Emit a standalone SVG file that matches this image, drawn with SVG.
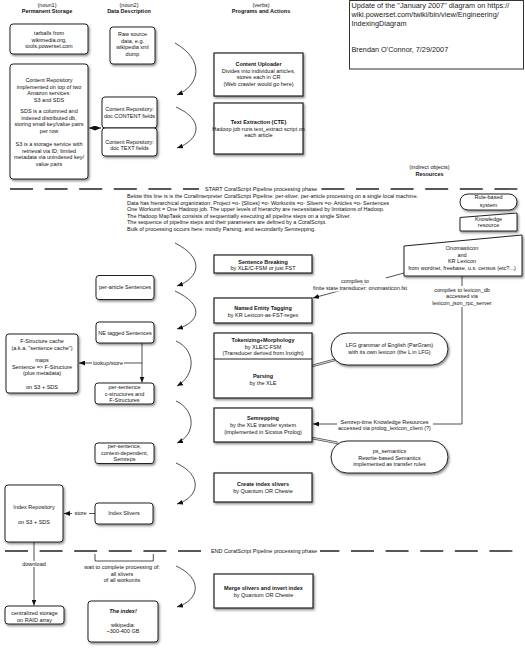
<svg xmlns="http://www.w3.org/2000/svg" width="525" height="649" viewBox="0 0 525 649">
<defs>
<style>
text{font-family:"Liberation Sans",Arial,Helvetica,sans-serif;font-size:5.5px;fill:#111;text-anchor:middle}
.b{font-weight:bold}
.l{text-anchor:start}
.blk{font-size:5.5px;text-anchor:start}
.note{font-size:7.3px;text-anchor:start;fill:#1a1a24}
.box{fill:#fff;stroke:#222;stroke-width:1;filter:url(#sh)}
.pbox{fill:#fff;stroke:#222;stroke-width:1.2;filter:url(#sh)}
.c{fill:none;stroke:#222;stroke-width:0.8}
.dash{fill:none;stroke:#222;stroke-width:1.4;stroke-dasharray:23 11.6}
.dbl1{stroke:#555;stroke-width:2.4;fill:none}
.dbl2{stroke:#fff;stroke-width:0.8;fill:none}
.bg{fill:#fff}
</style>
<filter id="sh" x="-10%" y="-10%" width="130%" height="140%"><feDropShadow dx="1.2" dy="1.6" stdDeviation="0.8" flood-color="#000" flood-opacity="0.45"/></filter>
<marker id="ah" viewBox="0 0 6 5" refX="6" refY="2.5" markerWidth="6" markerHeight="5" markerUnits="userSpaceOnUse" orient="auto-start-reverse"><path d="M0,0 L6,2.5 L0,5 z" fill="#111"/></marker>
</defs>
<rect width="525" height="649" fill="#fff"/>

<g id="headers">
<text x="47" y="7">(noun1)</text>
<text x="47" y="13" class="b">Permanent Storage</text>
<text x="129" y="7">(noun2)</text>
<text x="129" y="13" class="b">Data Description</text>
<text x="261" y="7">(verbs)</text>
<text x="261" y="13" class="b">Programs and Actions</text>
<text x="429.5" y="169">(indirect objects)</text>
<text x="429.5" y="175.5" class="b">Resources</text>
</g>

<g id="note">
<rect x="349.5" y="0.5" width="174" height="68.5" fill="#fff" stroke="#333" stroke-width="1"/>
<text x="351.5" y="8.3" class="note">Update of the "January 2007" diagram on https://</text>
<text x="351.5" y="17" class="note">wiki.powerset.com/twiki/bin/view/Engineering/</text>
<text x="351.5" y="26" class="note">IndexingDiagram</text>
<text x="351.5" y="52" class="note">Brendan O'Connor, 7/29/2007</text>
</g>

<g id="phases">
<line x1="10" y1="189" x2="517.4" y2="189" class="dash"/>
<rect x="199" y="185" width="121" height="8" class="bg"/>
<text x="261" y="190.9">START CoralScript Pipeline processing phase</text>
<line x1="5" y1="551" x2="513" y2="551" class="dash"/>
<rect x="205" y="547" width="115" height="8" class="bg"/>
<text x="264" y="552.9">END CoralScript Pipeline processing phase</text>
</g>

<g id="pipeline-notes">
<text x="127" y="198" class="blk">Below this line is is the CoralInterpreter CoralScript Pipeline: per-sliver, per-article processing on a single local machine.</text>
<text x="127" y="204.5" class="blk">Data has hierarchical organization:  Project =o- {Slices} =o- Workunits =o- Slivers =o- Articles =o- Sentences</text>
<text x="127" y="211" class="blk">One Workunit = One Hadoop job.  The upper levels of hierarchy are necessitated by limitations of Hadoop.</text>
<text x="127" y="217.5" class="blk">The Hadoop MapTask consists of sequentially executing all pipeline steps on a single Sliver.</text>
<text x="127" y="224" class="blk">The sequence of pipeline steps and their parameters are defined by a CoralScript.</text>
<text x="127" y="230.5" class="blk">Bulk of processing occurs here: mostly Parsing, and secondarily Semrepping.</text>
</g>

<g id="connectors">
<line x1="89" y1="128" x2="101" y2="128" class="c" marker-start="url(#ah)" marker-end="url(#ah)"/>
<path d="M175,43 C205,60 200,85 177,95" class="c" marker-end="url(#ah)"/>
<path d="M176,107 C205,120 200,140 177,148" class="c" marker-end="url(#ah)"/>
<path d="M175,243 C205,258 200,278 177,286" class="c" marker-end="url(#ah)"/>
<path d="M175,291 C205,305 200,322 177,329" class="c" marker-end="url(#ah)"/>
<path d="M176,341 C196,350 196,375 177,386" class="c" marker-end="url(#ah)"/>
<path d="M176,401 C196,410 196,435 177,443" class="c" marker-end="url(#ah)"/>
<path d="M176,463 C203,475 200,497 177,504" class="c" marker-end="url(#ah)"/>
<path d="M176,566 C203,578 200,600 177,607" class="c" marker-end="url(#ah)"/>
<line x1="142" y1="343" x2="142" y2="382.5" class="c" marker-end="url(#ah)"/>
<line x1="142" y1="363" x2="79" y2="363" class="c" marker-end="url(#ah)"/>
<rect x="92" y="360" width="32" height="6" class="bg"/>
<text x="108" y="364.9">lookup/store</text>
<line x1="95" y1="513.5" x2="64" y2="513.5" class="c" marker-end="url(#ah)"/>
<rect x="72" y="510.5" width="17" height="6" class="bg"/>
<text x="80.5" y="515.4">store</text>
<line x1="34" y1="542" x2="34" y2="605.5" class="c" marker-end="url(#ah)"/>
<rect x="21" y="561" width="26" height="6" class="bg"/>
<text x="34" y="565.9">download</text>
<line x1="404" y1="273" x2="313" y2="298" class="c" marker-end="url(#ah)"/>
<rect x="336" y="277.5" width="50" height="7" class="bg"/>
<rect x="312" y="284.5" width="96" height="7" class="bg"/>
<text x="355" y="283.2">compiles to</text>
<text x="360" y="290.2">finite state transducer: onomasticon.fst</text>
<polyline points="462,276 462,424 313,424" class="c" marker-end="url(#ah)"/>
<rect x="433" y="286" width="58" height="21" class="bg"/>
<text x="462" y="291.6">compiles to lexicon_db</text>
<text x="462" y="298.2">accessed via</text>
<text x="462" y="304.9">lexicon_json_rpc_server</text>
<rect x="337" y="418.5" width="96" height="12" class="bg"/>
<text x="384.5" y="423.9">Semrep-time Knowledge Resources</text>
<text x="384.5" y="430">accessed via prolog_lexicon_client (?)</text>
<line x1="312" y1="366" x2="338" y2="359" class="dbl1"/>
<line x1="312" y1="366" x2="338" y2="359" class="dbl2"/>
<line x1="312" y1="438" x2="338" y2="443" class="dbl1"/>
<line x1="312" y1="438" x2="338" y2="443" class="dbl2"/>
</g>

<g id="tarballs">
<rect x="10" y="24" width="78" height="30" rx="3" class="box"/>
<text x="49" y="35">tarballs from</text>
<text x="49" y="41.5">wikimedia.org,</text>
<text x="49" y="48">tools.powerset.com</text>
</g>
<g id="raw-source">
<rect x="110" y="27" width="45" height="37" rx="3" class="box"/>
<text x="132.5" y="36">Raw source</text>
<text x="132.5" y="42.7">data, e.g.</text>
<text x="132.5" y="49.3">wikipedia xml</text>
<text x="132.5" y="56">dump</text>
</g>
<g id="content-repository">
<rect x="10" y="64" width="78" height="115" rx="3" class="box"/>
<text x="49" y="82">Content Repository</text>
<text x="49" y="88.6">implemented on top of two</text>
<text x="49" y="95.2">Amazon services:</text>
<text x="49" y="101.8">S3 and SDS</text>
<text x="49" y="113.2">SDS is a columned and</text>
<text x="49" y="119.6">indexed distributed db,</text>
<text x="49" y="126.4">storing small key/value pairs</text>
<text x="49" y="133">per row</text>
<text x="49" y="146">S3 is a storage service with</text>
<text x="49" y="152.6">retrieval via ID; limited</text>
<text x="49" y="159.2">metadata via unindexed key/</text>
<text x="49" y="165.8">value pairs</text>
</g>
<g id="cr-content">
<rect x="102" y="97" width="55" height="31" rx="3" class="box"/>
<text x="129.5" y="111.2">Content Repository:</text>
<text x="129.5" y="118">doc CONTENT fields</text>
</g>
<g id="cr-text">
<rect x="102" y="128" width="55" height="28" rx="3" class="box"/>
<text x="129.5" y="143.6">Content Repository:</text>
<text x="129.5" y="149.6">doc TEXT fields</text>
</g>
<g id="content-uploader">
<rect x="214" y="53" width="89" height="43" class="pbox"/>
<text x="258.5" y="66" class="b">Content Uploader</text>
<text x="258.5" y="72.6">Divides into individual articles,</text>
<text x="258.5" y="79.2">stores each in CR</text>
<text x="258.5" y="85.8">(Web crawler would go here)</text>
</g>
<g id="text-extraction">
<rect x="214" y="103" width="89" height="51" class="pbox"/>
<text x="258.5" y="124.3" class="b">Text Extraction (CTE)</text>
<text x="258.5" y="130.7" font-size="5.2">Hadoop job runs text_extract script on</text>
<text x="258.5" y="137">each article</text>
</g>

<g id="rule-based">
<rect x="460" y="194" width="57" height="16" rx="8" class="box"/>
<text x="488.5" y="199.2">Rule-based</text>
<text x="488.5" y="206.6">system</text>
</g>
<g id="knowledge-resource">
<polygon points="460,217.5 517,213 517,231 460,231" class="box"/>
<text x="488.5" y="220.9">Knowledge</text>
<text x="488.5" y="227">resource</text>
</g>
<g id="onomasticon">
<polygon points="404,246 522,235 522,276 404,276" class="box"/>
<text x="462" y="250.2">Onomasticon</text>
<text x="462" y="256.6">and</text>
<text x="462" y="263.2">KR Lexicon</text>
<text x="462" y="269.9" font-size="5.2">from wordnet, freebase, u.s. census (etc?...)</text>
</g>

<g id="sentence-breaking">
<rect x="214" y="255" width="98" height="18" class="pbox"/>
<text x="263" y="264" class="b">Sentence Breaking</text>
<text x="263" y="270.3">by XLE/C-FSM or just FST</text>
</g>
<g id="named-entity-tagging">
<rect x="214" y="298" width="98" height="25" class="pbox"/>
<text x="263" y="310" class="b">Named Entity Tagging</text>
<text x="263" y="316.6">by KR Lexicon-as-FST-regex</text>
</g>
<g id="tokenizing-parsing">
<rect x="214" y="333" width="98" height="65" class="pbox"/>
<line x1="214" y1="359" x2="312" y2="359" stroke="#222" stroke-width="1"/>
<text x="263" y="342" class="b">Tokenizing+Morphology</text>
<text x="263" y="348.5">by XLE/C-FSM</text>
<text x="263" y="355">(Transducer derived from Inxight)</text>
<text x="263" y="378" class="b">Parsing</text>
<text x="263" y="384.6">by the XLE</text>
</g>
<g id="semrepping">
<rect x="214" y="408" width="98" height="34" class="pbox"/>
<text x="263" y="420.2" class="b">Semrepping</text>
<text x="263" y="426.9">by the XLE transfer system</text>
<text x="263" y="433.6">(implemented in Sicstus Prolog)</text>
</g>
<g id="create-index-slivers">
<rect x="214" y="473" width="98" height="29" class="pbox"/>
<text x="263" y="486.2" class="b">Create index slivers</text>
<text x="263" y="492.5">by Quantum OR Chewie</text>
</g>
<g id="merge-slivers">
<rect x="214" y="574" width="99" height="34" class="pbox"/>
<text x="263.5" y="590" class="b">Merge slivers and invert index</text>
<text x="263.5" y="596.6">by Quantum OR Chewie</text>
</g>

<g id="lfg-grammar">
<rect x="331" y="333" width="117" height="32" rx="16" class="box"/>
<text x="389.5" y="347.2">LFG grammar of English (ParGram)</text>
<text x="389.5" y="353.9">with its own lexicon (the L in LFG)</text>
</g>
<g id="ps-semantics">
<rect x="331" y="441" width="117" height="32" rx="16" class="box"/>
<text x="389.5" y="452.9">ps_semantics</text>
<text x="389.5" y="459.6">Rewrite-based Semantics</text>
<text x="389.5" y="465.6">implemented as transfer rules</text>
</g>

<g id="per-article-sentences">
<rect x="96" y="275.5" width="58" height="24" rx="3" class="box"/>
<text x="125" y="289.2">per-article Sentences</text>
</g>
<g id="ne-tagged-sentences">
<rect x="96" y="322" width="58" height="21" rx="3" class="box"/>
<text x="125" y="334.6">NE tagged Sentences</text>
</g>
<g id="c-structures">
<rect x="95" y="383" width="59" height="21" rx="3" class="box"/>
<text x="124.5" y="389">per-sentence</text>
<text x="124.5" y="395.6">c-structures and</text>
<text x="124.5" y="402">F-Structures</text>
</g>
<g id="semreps">
<rect x="95" y="443" width="59" height="20.5" rx="3" class="box"/>
<text x="124.5" y="448">per-sentence,</text>
<text x="124.5" y="454.6">context-dependent,</text>
<text x="124.5" y="461.2">Semreps</text>
</g>
<g id="index-slivers">
<rect x="95" y="503" width="58" height="21" rx="3" class="box"/>
<text x="124" y="515.2">Index Slivers</text>
</g>
<g id="f-structure-cache">
<rect x="6" y="334" width="72" height="59" rx="3" class="box"/>
<text x="42" y="343">F-Structure cache</text>
<text x="42" y="349.6">(a.k.a. "sentence cache")</text>
<text x="42" y="362">maps</text>
<text x="42" y="368.6">Sentence =&gt; F-Structure</text>
<text x="42" y="375.2">(plus metadata)</text>
<text x="42" y="388.6">on S3 + SDS</text>
</g>
<g id="index-repository">
<rect x="5" y="485" width="58" height="57" rx="3" class="box"/>
<text x="34" y="509.2">Index Repository</text>
<text x="34" y="523.6">on S3 + SDS</text>
</g>
<g id="centralized-storage">
<rect x="5" y="606" width="59" height="18" rx="3" class="box"/>
<text x="34.5" y="615">centralized storage</text>
<text x="34.5" y="621.6">on RAID array</text>
</g>
<g id="the-index">
<rect x="88" y="601" width="70" height="41" rx="3" class="box"/>
<text x="123" y="613.2" class="b" font-style="italic">The index!</text>
<text x="123" y="626.6">wikipedia:</text>
<text x="123" y="633.2">~300-400 GB</text>
</g>
<g id="wait-note">
<path d="M95,554 V561 H153.3 V554" class="c"/>
<text x="122" y="569.2">wait to complete processing of:</text>
<text x="122" y="575.6">all slivers</text>
<text x="122" y="582">of all workunits</text>
</g>
</svg>
